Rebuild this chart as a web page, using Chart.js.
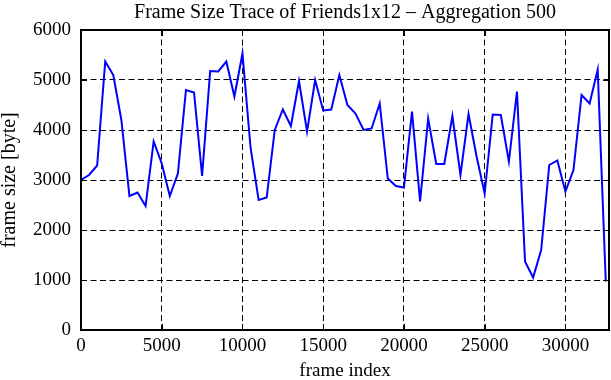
<!DOCTYPE html>
<html><head><meta charset="utf-8">
<script src="https://cdn.jsdelivr.net/npm/chart.js@4/dist/chart.umd.min.js"></script>
<style>html,body{margin:0;padding:0;background:#fff}#wrap{width:611px;height:380px}</style>
</head><body><div id="wrap"><canvas id="c" width="611" height="380"></canvas></div>
<script>
const chartTitle = 'Frame Size Trace of Friends1x12 \u2013 Aggregation 500';
const xLabel = 'frame index';
const yLabel = 'frame size [byte]';
const frameIndex = [0,500,1000,1500,2000,2500,3000,3500,4000,4500,5000,5500,6000,6500,7000,7500,8000,8500,9000,9500,
  10000,10500,11000,11500,12000,12500,13000,13500,14000,14500,15000,15500,16000,16500,17000,17500,18000,18500,19000,19500,
  20000,20500,21000,21500,22000,22500,23000,23500,24000,24500,25000,25500,26000,26500,27000,27500,28000,28500,29000,29500,
  30000,30500,31000,31500,32000,32500];
const frameSize = [3000,3100,3290,5370,5100,4200,2680,2750,2480,3770,3330,2680,3130,4800,4750,3080,5180,5170,5370,4670,
  5530,3650,2600,2650,4000,4410,4080,4980,3970,5000,4390,4410,5100,4500,4330,4000,4030,4530,3030,2880,
  2850,4370,2570,4230,3320,3320,4280,3100,4320,3470,2730,4310,4300,3370,4770,1370,1050,1600,3300,3390,
  2770,3200,4700,4530,5210,970];
const xTicks = [0,5000,10000,15000,20000,25000,30000];
const yTicks = [0,1000,2000,3000,4000,5000,6000];
const xMax = 32700;

const FONT = 'Liberation Serif';
const borderPlugin = {
  id: 'frameBorder',
  afterDraw(chart) {
    const a = chart.chartArea, ctx = chart.ctx;
    const sx = chart.scales.x, sy = chart.scales.y;
    const tl = 6;
    ctx.save();
    ctx.strokeStyle = '#000';
    ctx.setLineDash([]);
    ctx.lineWidth = 1;
    ctx.beginPath();
    xTicks.forEach(v => {
      const px = Math.round(sx.getPixelForValue(v)) + 0.5;
      ctx.moveTo(px, a.bottom); ctx.lineTo(px, a.bottom - tl);
      ctx.moveTo(px, a.top); ctx.lineTo(px, a.top + tl);
    });
    yTicks.forEach(v => {
      const py = Math.round(sy.getPixelForValue(v)) + 0.5;
      ctx.moveTo(a.left, py); ctx.lineTo(a.left + tl, py);
      ctx.moveTo(a.right, py); ctx.lineTo(a.right - tl, py);
    });
    ctx.stroke();
    ctx.lineWidth = 2;
    ctx.strokeRect(a.left, a.top, a.right - a.left, a.bottom - a.top);
    ctx.restore();
  }
};

new Chart(document.getElementById('c'), {
  type: 'line',
  data: {
    datasets: [{
      data: frameIndex.map((x, i) => ({x: x, y: frameSize[i]})),
      borderColor: '#0000ff',
      borderWidth: 2,
      pointRadius: 0,
      tension: 0,
      fill: false
    }]
  },
  options: {
    responsive: false,
    animation: false,
    devicePixelRatio: 1,
    layout: {padding: {left: 0, right: 2, top: 0, bottom: 0}},
    plugins: {
      legend: {display: false},
      tooltip: {enabled: false},
      title: {
        display: true, text: chartTitle, color: '#000', fullSize: false,
        font: {family: FONT, size: 20, weight: 'normal'},
        padding: {top: 1, bottom: 5}
      }
    },
    scales: {
      x: {
        type: 'linear', min: 0, max: xMax,
        afterBuildTicks: s => { s.ticks = xTicks.map(v => ({value: v})); },
        afterFit: s => { s.height = 50; },
        grid: {color: '#000', lineWidth: 1, drawTicks: false},
        border: {display: false, dash: [6, 3.5]},
        ticks: {color: '#000', padding: 5, maxRotation: 0, callback: v => String(v), font: {family: FONT, size: 19}},
        title: {display: true, text: xLabel, color: '#000', padding: {top: 0, bottom: -2}, font: {family: FONT, size: 19}}
      },
      y: {
        min: 0, max: 6000,
        afterBuildTicks: s => { s.ticks = yTicks.map(v => ({value: v})); },
        afterFit: s => { s.width = 81; },
        grid: {color: '#000', lineWidth: 1, drawTicks: false},
        border: {display: false, dash: [6, 3.5]},
        ticks: {color: '#000', padding: 10, callback: v => String(v), font: {family: FONT, size: 19}},
        title: {display: true, text: yLabel, color: '#000', padding: {top: -2, bottom: 0}, font: {family: FONT, size: 20}}
      }
    }
  },
  plugins: [borderPlugin]
});
</script></body></html>
